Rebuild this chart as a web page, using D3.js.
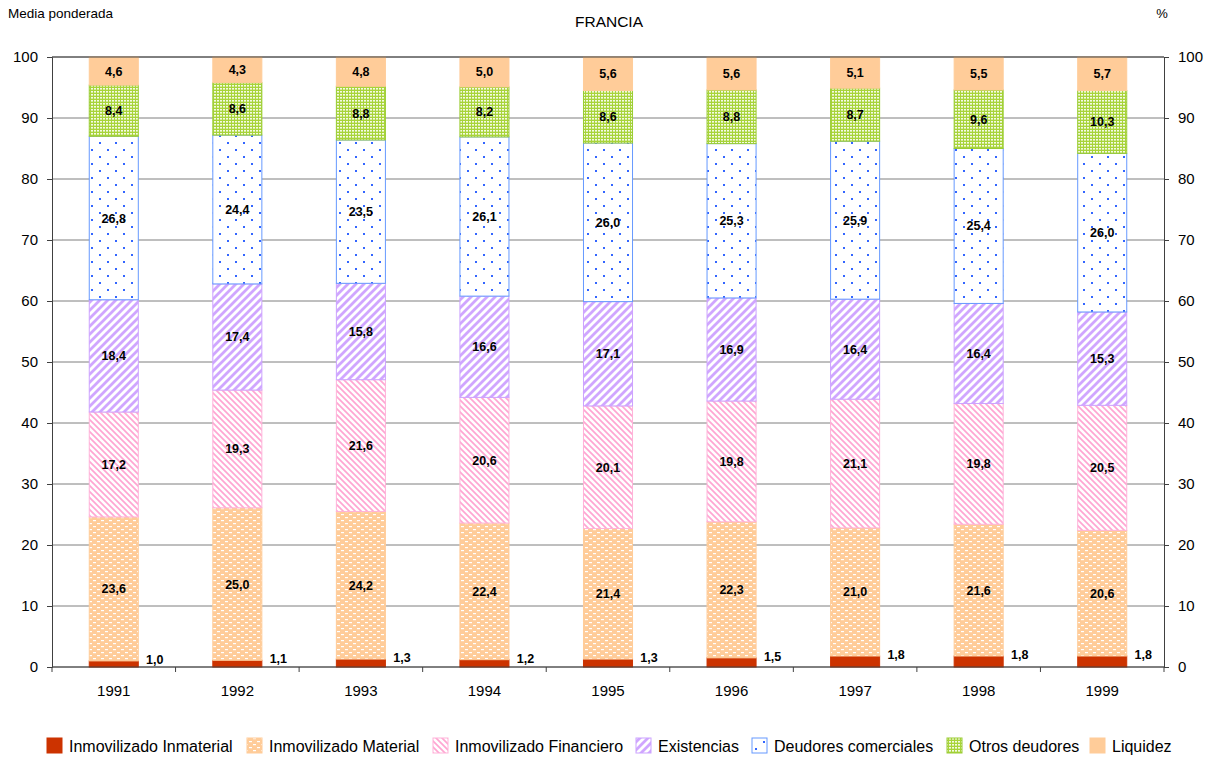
<!DOCTYPE html>
<html><head><meta charset="utf-8">
<script src="https://cdn.jsdelivr.net/npm/d3@7"></script>
<style>body{margin:0;background:#fff}svg{display:block;font-family:"Liberation Sans",Arial,sans-serif}</style>
</head><body><svg id="c" width="1210" height="758"></svg>
<script>
const years = ["1991","1992","1993","1994","1995","1996","1997","1998","1999"];
const seriesNames = ["Inmovilizado Inmaterial","Inmovilizado Material","Inmovilizado Financiero","Existencias","Deudores comerciales","Otros deudores","Liquidez"];
const inmaterial = [1.0,1.1,1.3,1.2,1.3,1.5,1.8,1.8,1.8];
const material = [23.6,25.0,24.2,22.4,21.4,22.3,21.0,21.6,20.6];
const financiero = [17.2,19.3,21.6,20.6,20.1,19.8,21.1,19.8,20.5];
const existencias = [18.4,17.4,15.8,16.6,17.1,16.9,16.4,16.4,15.3];
const deudores = [26.8,24.4,23.5,26.1,26.0,25.3,25.9,25.4,26.0];
const otros = [8.4,8.6,8.8,8.2,8.6,8.8,8.7,9.6,10.3];
const liquidez = [4.6,4.3,4.8,5.0,5.6,5.6,5.1,5.5,5.7];
const yTicks = [0,10,20,30,40,50,60,70,80,90,100];

const seriesValues = [inmaterial,material,financiero,existencias,deudores,otros,liquidez];
const keys = ["k0","k1","k2","k3","k4","k5","k6"];
const table = years.map((y,i)=>{const o={year:y};keys.forEach((k,j)=>o[k]=seriesValues[j][i]);return o;});

const svg = d3.select("#c");
const L=52,R=1164,T=57,B=667;
const x = d3.scaleBand().domain(years).range([L,R]).paddingInner(0.595).paddingOuter(0.2975);
const y = d3.scaleLinear().domain([0,100]).range([B,T]);

// patterns
const defs = svg.append("defs");
function pat(id,w,h,draw){const p=defs.append("pattern").attr("id",id).attr("patternUnits","userSpaceOnUse").attr("width",w).attr("height",h);draw(p);}
pat("pMat",8,6,p=>{p.append("rect").attr("width",8).attr("height",6).attr("fill","#FFCC99");
  p.append("rect").attr("x",1).attr("y",1).attr("width",3).attr("height",1.2).attr("fill","#fff");
  p.append("rect").attr("x",5).attr("y",4).attr("width",3).attr("height",1.2).attr("fill","#fff");});
pat("pFin",6,6,p=>{p.append("rect").attr("width",6).attr("height",6).attr("fill","#fff");
  p.append("path").attr("d","M-1,-1L7,7M-4,2L2,8M4,-2L8,2").attr("stroke","#FFA6D2").attr("stroke-width",1.7);});
pat("pExi",8,8,p=>{p.append("rect").attr("width",8).attr("height",8).attr("fill","#fff");
  p.append("path").attr("d","M-1,9L9,-1M-5,5L5,-5M3,13L13,3").attr("stroke","#D0A6FF").attr("stroke-width",2.8);});
pat("pDeu",16,14,p=>{p.append("rect").attr("width",16).attr("height",14).attr("fill","#fff");
  p.append("rect").attr("x",3).attr("y",2).attr("width",2).attr("height",2).attr("fill","#3366FF");
  p.append("rect").attr("x",11).attr("y",9).attr("width",2).attr("height",2).attr("fill","#3366FF");});
pat("pOtr",3,3,p=>{p.append("rect").attr("width",3).attr("height",3).attr("fill","#A8D43A");
  p.append("rect").attr("x",1).attr("y",1).attr("width",2).attr("height",1.6).attr("fill","#F4FAE4");});
const fills = ["#CC3300","url(#pMat)","url(#pFin)","url(#pExi)","url(#pDeu)","url(#pOtr)","#FFCC99"];
const strokes = ["#CC3300","#FFCC99","#FFB3D9","#CCA3FF","#6699FF","#99CC33","#FFCC99"];

// title texts
svg.append("text").attr("x",8).attr("y",18).attr("font-size",13.5).attr("fill","#000").text("Media ponderada");
svg.append("text").attr("x",609).attr("y",27).attr("font-size",15.5).attr("text-anchor","middle").text("FRANCIA");
svg.append("text").attr("x",1162).attr("y",18).attr("font-size",13).attr("text-anchor","middle").text("%");

// gridlines
svg.append("g").selectAll("line").data(yTicks).join("line")
  .attr("x1",L).attr("x2",R).attr("y1",d=>y(d)).attr("y2",d=>y(d)).attr("stroke","#7f7f7f").attr("stroke-width",1);

// bars
const stack = d3.stack().keys(keys)(table);
const g = svg.append("g");
stack.forEach((s,si)=>{
  g.append("g").selectAll("rect").data(s).join("rect")
   .attr("x",d=>x(d.data.year)+0.5).attr("width",x.bandwidth()-1)
   .attr("y",d=>y(Math.min(100,d[1]))).attr("height",d=>y(d[0])-y(Math.min(100,d[1])))
   .attr("fill",fills[si]).attr("stroke",strokes[si]).attr("stroke-width",1);
});

// axes
const styleAxis = a=>{a.selectAll("text").attr("font-size",15).attr("font-family","Liberation Sans, Arial").attr("fill","#000");a.selectAll("line,path").attr("stroke","#404040");};
svg.append("g").attr("transform",`translate(${L},0)`).call(d3.axisLeft(y).tickValues(yTicks).tickSize(5).tickPadding(9)).call(styleAxis);
svg.append("g").attr("transform",`translate(${R},0)`).call(d3.axisRight(y).tickValues(yTicks).tickSize(5).tickPadding(9)).call(styleAxis);
svg.append("line").attr("x1",L).attr("x2",R).attr("y1",T).attr("y2",T).attr("stroke","#404040");
const xa = svg.append("g").attr("transform",`translate(0,${B})`);
xa.append("line").attr("x1",L).attr("x2",R).attr("stroke","#404040");
const bounds = d3.range(years.length+1).map(i=>L+i*(R-L)/years.length);
xa.selectAll("line.t").data(bounds).join("line").attr("class","t").attr("x1",d=>d).attr("x2",d=>d).attr("y1",0).attr("y2",5).attr("stroke","#404040");
xa.selectAll("text").data(years).join("text").attr("x",d=>x(d)+x.bandwidth()/2).attr("y",29).attr("text-anchor","middle").attr("font-size",15).text(d=>d);

// value labels
const fmt = v=>v.toFixed(1).replace(".",",");
stack.forEach((s,si)=>{
  g.append("g").selectAll("text").data(s).join("text")
   .attr("x",d=> si===0 ? x(d.data.year)+x.bandwidth()+16 : x(d.data.year)+x.bandwidth()/2)
   .attr("y",d=> si===0 ? y(d[1])+3 : (y(d[0])+y(Math.min(100,d[1])))/2+4.5)
   .attr("text-anchor","middle").attr("font-size",12.5).attr("font-weight","bold").text(d=>fmt(d[1]-d[0]));
});

// legend
const legX = [69,269,455,658,774,969,1112];
const lg = svg.append("g").attr("transform","translate(0,746)");
seriesNames.forEach((n,i)=>{
  lg.append("rect").attr("x",legX[i]-22).attr("y",-8).attr("width",15).attr("height",15).attr("fill",fills[i]).attr("stroke",strokes[i]);
  lg.append("text").attr("x",legX[i]).attr("y",5.5).attr("font-size",16).text(n);
});
</script></body></html>
